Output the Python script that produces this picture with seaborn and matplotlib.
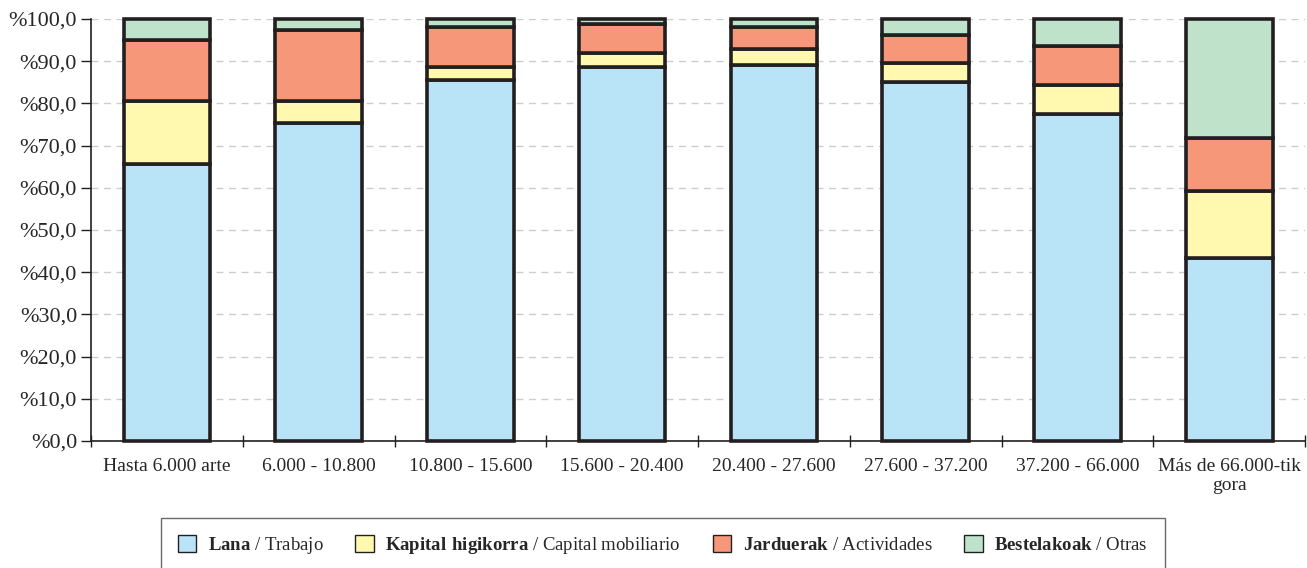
import numpy as np
import matplotlib
matplotlib.use('Agg')
import matplotlib.pyplot as plt
import seaborn as sns
from matplotlib.ticker import FuncFormatter, FixedLocator
from matplotlib.patches import Patch

# datos
categories = ['Hasta 6.000 arte', '6.000 - 10.800', '10.800 - 15.600', '15.600 - 20.400',
              '20.400 - 27.600', '27.600 - 37.200', '37.200 - 66.000', 'Más de 66.000-tik\ngora']
lana = [65.6, 75.4, 85.5, 88.6, 89.1, 85.1, 77.5, 43.4]
kapital = [15.0, 5.2, 3.1, 3.3, 3.8, 4.5, 6.9, 15.8]
jarduerak = [14.4, 16.8, 9.5, 6.9, 5.2, 6.6, 9.2, 12.6]
otras = [5.0, 2.6, 1.9, 1.2, 1.9, 3.8, 6.4, 28.2]

series = [lana, kapital, jarduerak, otras]
colors = ['#b9e4f8', '#fff8ae', '#f59778', '#bfe2cb']
labels = [r'$\bf{Lana}$ / Trabajo',
          r'$\bf{Kapital\ higikorra}$ / Capital mobiliario',
          r'$\bf{Jarduerak}$ / Actividades',
          r'$\bf{Bestelakoak}$ / Otras']

sns.set_style('white')
plt.rcParams['font.family'] = ['Liberation Serif', 'DejaVu Serif']
plt.rcParams['mathtext.fontset'] = 'custom'
plt.rcParams['mathtext.rm'] = 'Liberation Serif'
plt.rcParams['mathtext.bf'] = 'Liberation Serif:bold'

fig = plt.figure(figsize=(13.07, 5.68), dpi=100)
ax = fig.add_axes([0.0696, 0.2236, 0.929, 0.743])

bottom = np.zeros(len(categories))
for vals, col in zip(series, colors):
    sns.barplot(x=categories, y=vals, bottom=bottom, color=col, saturation=1,
                edgecolor='#231f20', linewidth=2.6, width=0.57, ax=ax, zorder=3, clip_on=False)
    bottom = bottom + np.array(vals)

ax.set_xlim(-0.5, 7.5)
ax.set_ylim(0, 100)
ax.set_yticks(np.arange(0, 101, 10))
ax.yaxis.set_major_formatter(FuncFormatter(lambda v, p: ('%' + f'{v:.1f}').replace('.', ',')))
ax.yaxis.grid(True, linestyle=(0, (5, 4)), color='#cccccc', linewidth=1, zorder=0)
ax.set_axisbelow(True)

ax.xaxis.set_minor_locator(FixedLocator(np.arange(-0.5, 8, 1)))
ax.tick_params(axis='x', which='major', length=0, labelsize=14, pad=12, bottom=True)
ax.tick_params(axis='x', which='minor', length=8, direction='inout', color='#231f20', width=1,
               bottom=True)
ax.tick_params(axis='y', which='major', length=7, direction='out', color='#231f20', width=1,
               labelsize=16, pad=3, left=True)

for s in ['top', 'right']:
    ax.spines[s].set_visible(False)
for s in ['left', 'bottom']:
    ax.spines[s].set_color('#231f20')
    ax.spines[s].set_linewidth(1.2)

handles = [Patch(facecolor=c, edgecolor='#231f20', linewidth=1) for c in colors]
leg = fig.legend(handles, labels, loc='upper center', bbox_to_anchor=(0.507, 0.088), ncol=4,
                 fontsize=13.5, frameon=True, fancybox=False, handlelength=1.0, handleheight=1.0,
                 handletextpad=0.6, columnspacing=1.7, borderpad=0.9, borderaxespad=0)
leg.get_frame().set_edgecolor('#444444')
leg.get_frame().set_linewidth(1.0)

fig.savefig('out.png', dpi=100)
